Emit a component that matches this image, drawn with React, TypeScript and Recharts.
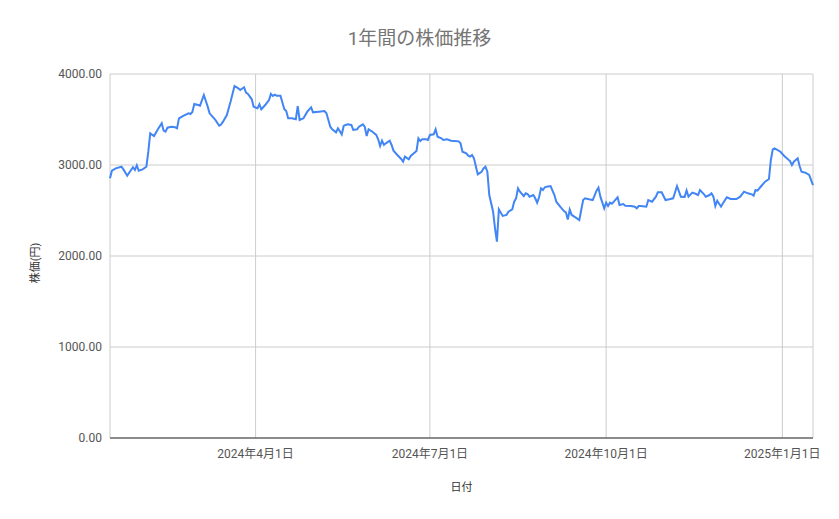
import React from 'react';
import { LineChart, Line, XAxis, YAxis, CartesianGrid, Label } from 'recharts';

const FONT = "Roboto, 'Noto Sans CJK JP', sans-serif";

const titleText = '1年間の株価推移';
const xAxisTitle = '日付';
const yAxisTitle = '株価(円)';

const dates: string[] = [
  '2024-01-16','2024-01-17','2024-01-19','2024-01-22','2024-01-23','2024-01-25','2024-01-27','2024-01-28','2024-01-29','2024-01-30',
  '2024-01-31','2024-02-02','2024-02-04','2024-02-05','2024-02-06','2024-02-08','2024-02-10','2024-02-12','2024-02-13','2024-02-14',
  '2024-02-15','2024-02-17','2024-02-19','2024-02-20','2024-02-21','2024-02-23','2024-02-26','2024-02-27','2024-02-28','2024-02-29',
  '2024-03-02','2024-03-03','2024-03-05','2024-03-07','2024-03-08','2024-03-11','2024-03-13','2024-03-14','2024-03-15','2024-03-17',
  '2024-03-19','2024-03-21','2024-03-23','2024-03-24','2024-03-26','2024-03-27','2024-03-28','2024-03-30','2024-03-31','2024-04-02',
  '2024-04-03','2024-04-04','2024-04-06','2024-04-08','2024-04-09','2024-04-10','2024-04-11','2024-04-12','2024-04-14','2024-04-16',
  '2024-04-17','2024-04-18','2024-04-20','2024-04-22','2024-04-23','2024-04-24','2024-04-26','2024-04-28','2024-04-30','2024-05-01',
  '2024-05-04','2024-05-07','2024-05-08','2024-05-10','2024-05-11','2024-05-13','2024-05-14','2024-05-16','2024-05-17','2024-05-18',
  '2024-05-19','2024-05-21','2024-05-22','2024-05-24','2024-05-25','2024-05-27','2024-05-28','2024-05-29','2024-05-30','2024-06-01',
  '2024-06-03','2024-06-04','2024-06-05','2024-06-06','2024-06-07','2024-06-08','2024-06-10','2024-06-11','2024-06-12','2024-06-14',
  '2024-06-16','2024-06-17','2024-06-18','2024-06-20','2024-06-21','2024-06-24','2024-06-25','2024-06-26','2024-06-27','2024-06-29',
  '2024-06-30','2024-07-01','2024-07-03','2024-07-04','2024-07-05','2024-07-07','2024-07-08','2024-07-10','2024-07-12','2024-07-14',
  '2024-07-16','2024-07-17','2024-07-18','2024-07-20','2024-07-21','2024-07-22','2024-07-23','2024-07-24','2024-07-26','2024-07-28',
  '2024-07-29','2024-07-30','2024-07-31','2024-08-01','2024-08-03','2024-08-04','2024-08-05','2024-08-06','2024-08-08','2024-08-10',
  '2024-08-11','2024-08-13','2024-08-14','2024-08-15','2024-08-16','2024-08-17','2024-08-19','2024-08-20','2024-08-21','2024-08-22',
  '2024-08-24','2024-08-25','2024-08-26','2024-08-27','2024-08-28','2024-08-29','2024-08-30','2024-08-31','2024-09-02','2024-09-04',
  '2024-09-05','2024-09-07','2024-09-09','2024-09-10','2024-09-11','2024-09-12','2024-09-13','2024-09-15','2024-09-17','2024-09-19',
  '2024-09-20','2024-09-22','2024-09-24','2024-09-26','2024-09-27','2024-09-28','2024-09-30','2024-10-01','2024-10-02','2024-10-03',
  '2024-10-04','2024-10-05','2024-10-07','2024-10-08','2024-10-10','2024-10-11','2024-10-14','2024-10-16','2024-10-17','2024-10-18',
  '2024-10-19','2024-10-22','2024-10-23','2024-10-25','2024-10-27','2024-10-28','2024-10-30','2024-11-01','2024-11-03','2024-11-05',
  '2024-11-07','2024-11-09','2024-11-11','2024-11-12','2024-11-13','2024-11-15','2024-11-17','2024-11-18','2024-11-19','2024-11-21',
  '2024-11-22','2024-11-24','2024-11-25','2024-11-26','2024-11-27','2024-11-28','2024-11-30','2024-12-01','2024-12-03','2024-12-05',
  '2024-12-08','2024-12-10','2024-12-12','2024-12-14','2024-12-16','2024-12-17','2024-12-18','2024-12-19','2024-12-21','2024-12-23',
  '2024-12-25','2024-12-26','2024-12-27','2024-12-28','2024-12-31','2025-01-02','2025-01-05','2025-01-06','2025-01-07','2025-01-09',
  '2025-01-10','2025-01-11','2025-01-13','2025-01-15','2025-01-17',
];

const prices: number[] = [
  2854,2937,2963,2981,2952,2883,2945,2975,2945,2997,
  2937,2952,2981,3146,3348,3319,3392,3458,3377,3366,
  3410,3421,3414,3403,3513,3538,3568,3560,3582,3670,
  3659,3652,3769,3641,3568,3495,3432,3445,3476,3549,
  3700,3868,3843,3824,3854,3795,3780,3722,3641,3623,
  3667,3612,3659,3714,3780,3758,3773,3762,3762,3612,
  3593,3513,3513,3502,3648,3495,3513,3586,3634,3579,
  3586,3593,3568,3421,3392,3359,3403,3337,3429,3440,
  3447,3440,3385,3392,3421,3447,3421,3319,3392,3366,
  3330,3282,3209,3267,3220,3238,3267,3220,3158,3110,
  3066,3037,3092,3062,3099,3154,3293,3264,3282,3282,
  3275,3330,3337,3392,3311,3293,3275,3282,3267,3264,
  3260,3238,3146,3128,3102,3092,3110,3073,2898,2926,
  2963,2981,2926,2670,2487,2304,2158,2513,2440,2451,
  2487,2513,2597,2634,2744,2707,2659,2689,2681,2652,
  2670,2634,2586,2645,2744,2725,2755,2762,2769,2670,
  2597,2542,2494,2480,2400,2510,2451,2425,2396,2615,
  2634,2623,2615,2718,2751,2652,2524,2586,2549,2586,
  2575,2597,2645,2560,2571,2553,2549,2542,2524,2549,
  2549,2542,2615,2597,2652,2700,2700,2615,2623,2634,
  2769,2652,2650,2720,2652,2696,2681,2670,2725,2681,
  2652,2670,2689,2652,2549,2608,2542,2579,2645,2626,
  2626,2652,2707,2689,2678,2663,2725,2718,2769,2817,
  2846,3055,3172,3183,3146,3099,3044,3000,3037,3073,
  2989,2926,2915,2890,2780,
];

const xTickDates: string[] = ['2024-04-01', '2024-07-01', '2024-10-01', '2025-01-01'];
const yTicks: number[] = [0, 1000, 2000, 3000, 4000];

const toTime = (s: string) => Date.parse(s + 'T00:00:00Z');

const data = dates.map((d, i) => ({ t: toTime(d), price: prices[i] }));
const xTicks = xTickDates.map(toTime);
const xDomain = [toTime(dates[0]), toTime(dates[dates.length - 1])];

const formatDate = (v: number) => {
  const d = new Date(v);
  return `${d.getUTCFullYear()}年${d.getUTCMonth() + 1}月${d.getUTCDate()}日`;
};

export default function App() {
  return (
    <div style={{ position: 'absolute', left: 0, top: 0, width: 839, height: 519, background: '#ffffff' }}>
      <div
        style={{
          position: 'absolute',
          left: 0,
          top: 27,
          width: 839,
          textAlign: 'center',
          fontFamily: FONT,
          fontSize: 19,
          lineHeight: '24px',
          color: '#757575',
        }}
      >
        {titleText}
      </div>
      <LineChart
        width={839}
        height={519}
        data={data}
        margin={{ top: 74, right: 26, bottom: 51, left: 0 }}
      >
        <CartesianGrid stroke="#cccccc" strokeWidth={1} />
        <XAxis
          dataKey="t"
          type="number"
          scale="time"
          domain={xDomain}
          ticks={xTicks}
          tickFormatter={formatDate}
          height={30}
          tickLine={false}
          tickMargin={5}
          axisLine={{ stroke: '#333333', strokeWidth: 1 }}
          tick={{ fill: '#555555', fontSize: 12, fontFamily: FONT }}
          interval={0}
        >
          <Label
            content={(props: any) => {
              const vb = props.viewBox || { x: 110, y: 438, width: 703 };
              return (
                <text
                  x={vb.x + vb.width / 2}
                  y={vb.y + 49}
                  textAnchor="middle"
                  dominantBaseline="central"
                  fontSize={11}
                  fontFamily={FONT}
                  fill="#333333"
                >
                  {xAxisTitle}
                </text>
              );
            }}
          />
        </XAxis>
        <YAxis
          type="number"
          domain={[0, 4000]}
          ticks={yTicks}
          tickFormatter={(v: number) => v.toFixed(2)}
          width={110}
          tickLine={false}
          axisLine={false}
          tick={{ fill: '#555555', fontSize: 12, fontFamily: FONT }}
          interval={0}
        >
          <Label
            content={(props: any) => {
              const vb = props.viewBox || { x: 0, y: 74, width: 110, height: 364 };
              const cx = vb.x + 35;
              const cy = vb.y + vb.height / 2 + 7;
              return (
                <text
                  x={cx}
                  y={cy}
                  transform={`rotate(-90 ${cx} ${cy})`}
                  textAnchor="middle"
                  dominantBaseline="central"
                  fontSize={11}
                  fontFamily={FONT}
                  fill="#333333"
                >
                  {yAxisTitle}
                </text>
              );
            }}
          />
        </YAxis>
        <Line
          type="linear"
          dataKey="price"
          stroke="#4285f4"
          strokeWidth={2}
          dot={false}
          isAnimationActive={false}
        />
      </LineChart>
    </div>
  );
}
